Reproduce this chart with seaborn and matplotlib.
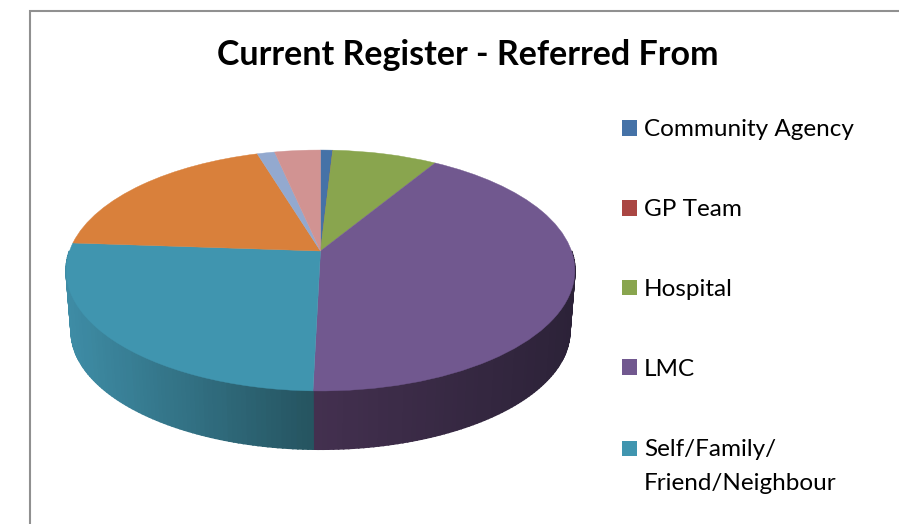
import numpy as np
import seaborn as sns
from matplotlib import pyplot as plt
from matplotlib.patches import Patch, Rectangle
from matplotlib.transforms import Transform

# the legend is cut off in the picture, last three slices have no visible name
legend_labels = ['Community Agency', 'GP Team', 'Hospital', 'LMC', 'Self/Family/\nFriend/Neighbour']
shares = [0.9, 0.0, 7.8, 41.7, 25.7, 19.2, 1.3, 3.4]
slice_colors = ['#4572a7', '#aa4643', '#89a54e', '#71588f', '#4095af', '#d9803b', '#93a9cf', '#d19392']

# wall gradients for the two slices at the front, left colour -> right colour
wall_colors = {3: ['#43304f', '#2c2238'], 4: ['#3e8ca5', '#25535f']}

sns.set_theme(style='white')
plt.rcParams['font.family'] = ['Lato', 'DejaVu Sans']

K = 0.1618


class TiltedDisc(Transform):
    # unit circle -> pixel position, nearer edge looks bigger
    input_dims = 2
    output_dims = 2

    def __init__(self, cx, cy, rx, ry):
        super().__init__()
        self.cx, self.cy, self.rx, self.ry = cx, cy, rx, ry

    def transform_non_affine(self, xy):
        xy = np.asarray(xy, dtype=float)
        w = 1 + K * xy[:, 1]
        return np.column_stack([self.cx + self.rx * xy[:, 0] / w,
                                self.cy - self.ry * xy[:, 1] / w])


top = TiltedDisc(320.5, 251, 251, 117.3)
bottom = TiltedDisc(320.5, 312, 246, 115)

fig, ax = plt.subplots(figsize=(8.99, 5.24), dpi=100)
fig.subplots_adjust(0, 0, 1, 1)
ax.set_facecolor('#ebeedd')

wedges, _ = ax.pie(shares, colors=sns.color_palette(slice_colors), startangle=90, counterclock=False)

for w in wedges:
    w.set_transform(top + ax.transData)
    w.set_edgecolor(w.get_facecolor())
    w.set_linewidth(0.3)
    w.set_zorder(4)

# side wall, short strips along the rim, front half only
for i, cols in wall_colors.items():
    t1, t2 = max(wedges[i].theta1, -180), min(wedges[i].theta2, 0)
    n = int(t2 - t1) + 1
    edges = np.radians(np.linspace(t1, t2, n + 1))
    ring = np.column_stack([np.cos(edges), np.sin(edges)])
    up = top.transform(ring)
    low = bottom.transform(ring)
    # brightness runs with x, not with the angle
    pal = sns.blend_palette(cols, 64)
    xs = low[:, 0]
    for j in range(n):
        frac = (xs[j] - xs.min()) / (xs.max() - xs.min())
        poly = np.vstack([up[j], up[j + 1], low[j + 1], low[j]])
        ax.fill(poly[:, 0], poly[:, 1], color=pal[int(frac * 63)], lw=1.2, zorder=3)

ax.set_aspect('auto')
ax.set_xlim(0, 899)
ax.set_ylim(524, 0)
ax.axis('on')
ax.set_xticks([])
ax.set_yticks([])
for s in ax.spines.values():
    s.set_visible(False)

ax.add_patch(Rectangle((29.5, 10.5), 900, 600, facecolor='white', edgecolor='#909090', lw=1.5, zorder=1))

ax.text(467.5, 55, 'Current Register - Referred From', ha='center', va='center',
        fontsize=24.5, fontweight='bold', color='black', zorder=5)

handles = [Patch(facecolor=c, edgecolor='none') for c in slice_colors[:5]]
leg = ax.legend(handles, legend_labels, loc='upper left', bbox_to_anchor=(0.6915, 0.772),
                frameon=False, fontsize=17.5, labelspacing=2.42, handlelength=0.62,
                handleheight=0.62, handletextpad=0.3, borderpad=0, borderaxespad=0,
                labelcolor='black')
leg.set_zorder(5)
for t in leg.get_texts():
    t.set_linespacing(1.78)
# keep the square level with the first line of the two line label
leg.legend_handles[-1].set_y(leg.legend_handles[-1].get_y() + 12.8)

plt.savefig('out.png', dpi=100)
